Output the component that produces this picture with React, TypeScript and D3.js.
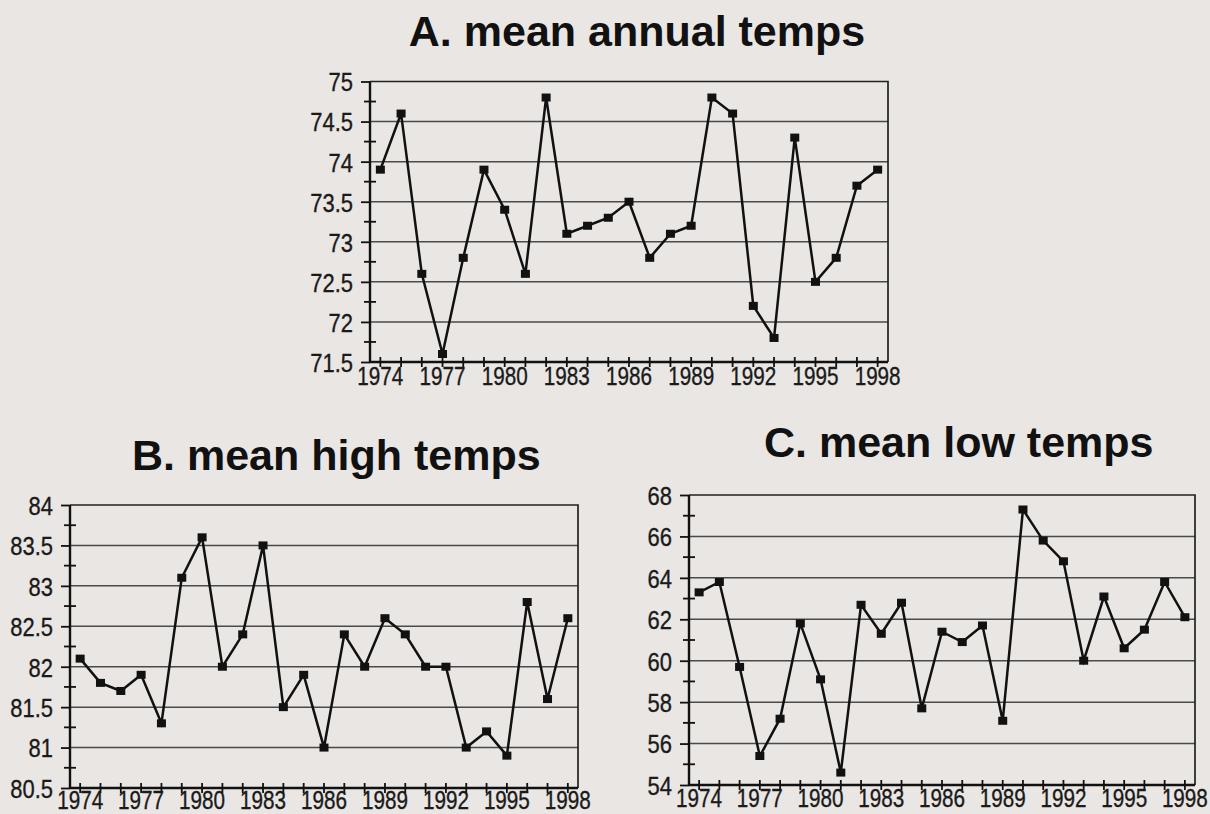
import React, { useRef, useEffect } from 'react';
import * as d3 from 'd3';

const years = [
  1974, 1975, 1976, 1977, 1978, 1979, 1980, 1981, 1982, 1983, 1984, 1985, 1986,
  1987, 1988, 1989, 1990, 1991, 1992, 1993, 1994, 1995, 1996, 1997, 1998,
];
const labelYears = [1974, 1977, 1980, 1983, 1986, 1989, 1992, 1995, 1998];

const annualTemps = [
  73.9, 74.6, 72.6, 71.6, 72.8, 73.9, 73.4, 72.6, 74.8, 73.1, 73.2, 73.3, 73.5,
  72.8, 73.1, 73.2, 74.8, 74.6, 72.2, 71.8, 74.3, 72.5, 72.8, 73.7, 73.9,
];
const highTemps = [
  82.1, 81.8, 81.7, 81.9, 81.3, 83.1, 83.6, 82.0, 82.4, 83.5, 81.5, 81.9, 81.0,
  82.4, 82.0, 82.6, 82.4, 82.0, 82.0, 81.0, 81.2, 80.9, 82.8, 81.6, 82.6,
];
const lowTemps = [
  63.3, 63.8, 59.7, 55.4, 57.2, 61.8, 59.1, 54.6, 62.7, 61.3, 62.8, 57.7, 61.4,
  60.9, 61.7, 57.1, 67.3, 65.8, 64.8, 60.0, 63.1, 60.6, 61.5, 63.8, 62.1,
];

const annualTicks = [71.5, 72, 72.5, 73, 73.5, 74, 74.5, 75];
const highTicks = [80.5, 81, 81.5, 82, 82.5, 83, 83.5, 84];
const lowTicks = [54, 56, 58, 60, 62, 64, 66, 68];

const titles = ['A. mean annual temps', 'B. mean high temps', 'C. mean low temps'];

const W = 1210;
const H = 814;
const tickFont = '"Liberation Sans", Arial, sans-serif';

// the scanned tick labels are a narrow face: squeeze the regular one to fit
const narrowWidth = (s: string, digit: number) =>
  s.split('').reduce((w, c) => w + (c === '.' ? digit / 2 : digit), 0);

const App = () => {
  const ref = useRef(null);

  useEffect(() => {
    const svg = d3.select(ref.current);
    svg.selectAll('*').remove();

    svg.append('rect').attr('width', W).attr('height', H).attr('fill', '#e9e6e3');

    const panels = [
      { values: annualTemps, ticks: annualTicks, left: 370, right: 888, top: 81.5, bottom: 362, labelDy: 23 },
      { values: highTemps, ticks: highTicks, left: 70, right: 578, top: 505, bottom: 788, labelDy: 21 },
      { values: lowTemps, ticks: lowTicks, left: 689, right: 1195, top: 495, bottom: 785, labelDy: 22 },
    ];

    panels.forEach(p => {
      const g = svg.append('g');
      const x = d3.scalePoint().domain(years).range([p.left, p.right]).padding(0.5);
      const y = d3.scaleLinear()
        .domain([p.ticks[0], p.ticks[p.ticks.length - 1]])
        .range([p.bottom, p.top]);
      const minor = p.ticks.slice(1).map((t, i) => (t + p.ticks[i]) / 2);

      // gridlines
      g.selectAll('line.grid')
        .data(p.ticks.slice(1, -1))
        .join('line')
        .attr('x1', p.left).attr('x2', p.right)
        .attr('y1', d => y(d)).attr('y2', d => y(d))
        .attr('stroke', '#4a4a4a').attr('stroke-width', 1.5);

      // frame: top and right
      g.append('path')
        .attr('d', `M${p.left},${y(p.ticks[p.ticks.length - 1])}H${p.right}V${p.bottom}`)
        .attr('fill', 'none').attr('stroke', '#222').attr('stroke-width', 1.7);

      // y axis
      const yAxis = g.append('g').attr('transform', `translate(${p.left},0)`)
        .call(d3.axisLeft(y).tickValues(p.ticks).tickSize(9).tickFormat(d => String(d)));
      yAxis.select('.domain').remove();
      yAxis.selectAll('line').attr('stroke', '#111').attr('stroke-width', 1.8);
      yAxis.selectAll('text')
        .attr('x', -17)
        .attr('dy', '0.36em')
        .attr('textLength', d => narrowWidth(String(d), 12.2))
        .attr('lengthAdjust', 'spacingAndGlyphs')
        .style('font-family', tickFont)
        .style('font-size', '26px')
        .attr('fill', '#1a1a1a')
        .attr('stroke', '#1a1a1a')
        .attr('stroke-width', 0.35);
      g.selectAll('line.minor-y')
        .data(minor)
        .join('line')
        .attr('x1', p.left - 6).attr('x2', p.left + 6)
        .attr('y1', d => y(d)).attr('y2', d => y(d))
        .attr('stroke', '#111').attr('stroke-width', 1.8);
      g.append('line')
        .attr('x1', p.left).attr('x2', p.left)
        .attr('y1', y(p.ticks[p.ticks.length - 1])).attr('y2', p.bottom)
        .attr('stroke', '#111').attr('stroke-width', 2.4);

      // x axis
      g.append('line')
        .attr('x1', p.left).attr('x2', p.right)
        .attr('y1', p.bottom).attr('y2', p.bottom)
        .attr('stroke', '#111').attr('stroke-width', 2.4);
      g.selectAll('line.xtick')
        .data(years)
        .join('line')
        .attr('x1', d => x(d)).attr('x2', d => x(d))
        .attr('y1', p.bottom - 5).attr('y2', p.bottom + 5)
        .attr('stroke', '#111').attr('stroke-width', 1.8);
      g.selectAll('text.xlabel')
        .data(labelYears)
        .join('text')
        .attr('x', d => x(d))
        .attr('y', p.bottom + p.labelDy)
        .attr('text-anchor', 'middle')
        .attr('textLength', d => narrowWidth(String(d), 11.5))
        .attr('lengthAdjust', 'spacingAndGlyphs')
        .style('font-family', tickFont)
        .style('font-size', '25px')
        .attr('fill', '#1a1a1a')
        .attr('stroke', '#1a1a1a')
        .attr('stroke-width', 0.35)
        .text(d => d);

      // series
      const line = d3.line().x((d, i) => x(years[i])).y(d => y(d));
      g.append('path')
        .datum(p.values)
        .attr('d', line)
        .attr('fill', 'none')
        .attr('stroke', '#111')
        .attr('stroke-width', 2.5)
        .attr('stroke-linejoin', 'miter');
      g.selectAll('rect.marker')
        .data(p.values)
        .join('rect')
        .attr('x', (d, i) => x(years[i]) - 4.5)
        .attr('y', d => y(d) - 4)
        .attr('width', 9).attr('height', 8)
        .attr('fill', '#111');
    });

    const titlePos = [
      { x: 637, y: 46, anchor: 'middle' },
      { x: 132, y: 470, anchor: 'start' },
      { x: 764, y: 457, anchor: 'start' },
    ];
    svg.selectAll('text.title')
      .data(titles)
      .join('text')
      .attr('x', (d, i) => titlePos[i].x)
      .attr('y', (d, i) => titlePos[i].y)
      .attr('text-anchor', (d, i) => titlePos[i].anchor)
      .style('font-family', '"Liberation Sans", Arial, sans-serif')
      .style('font-weight', 'bold')
      .style('font-size', '43px')
      .attr('fill', '#111')
      .text(d => d);

    return () => {
      svg.selectAll('*').remove();
    };
  }, []);

  return (
    <svg
      ref={ref}
      width={W}
      height={H}
      style={{ position: 'absolute', left: 0, top: 0, display: 'block' }}
    />
  );
};

export default App;
